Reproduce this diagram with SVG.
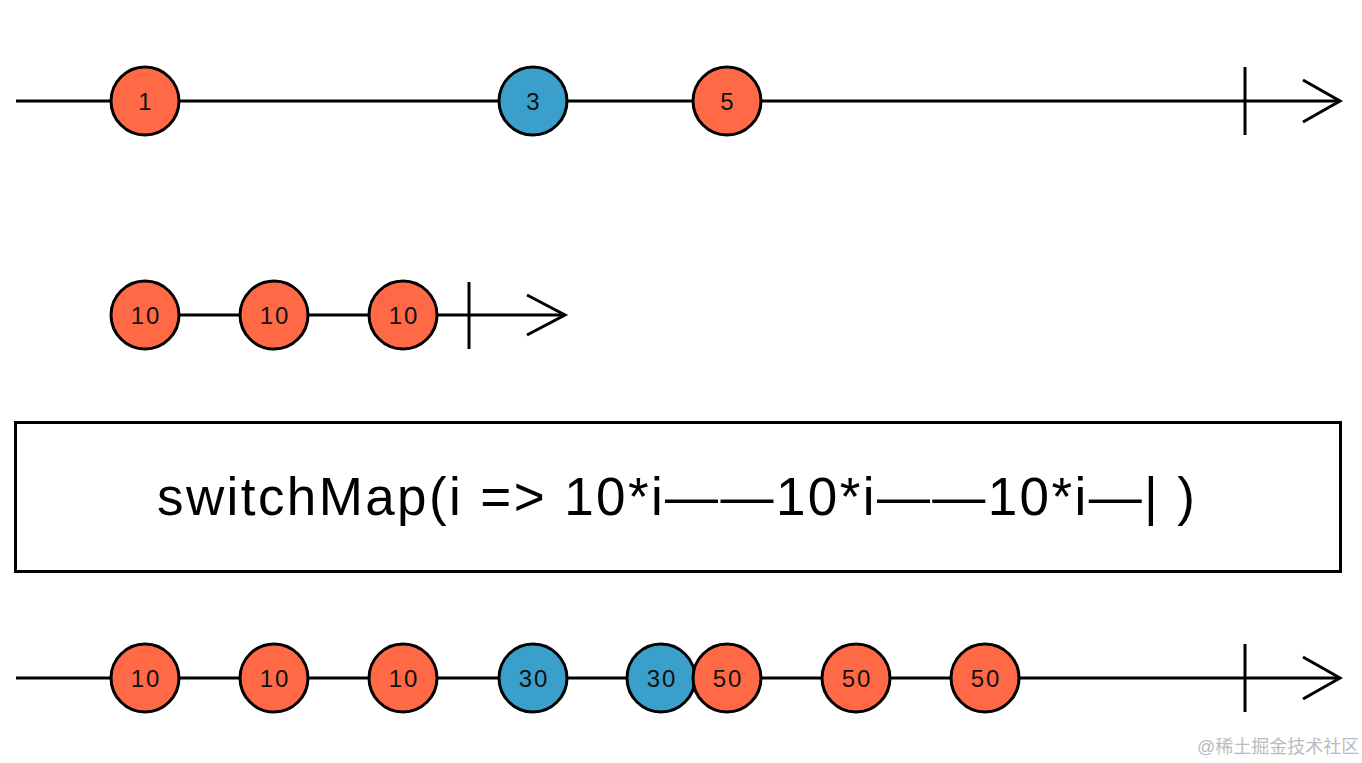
<svg xmlns="http://www.w3.org/2000/svg" width="1362" height="763" viewBox="0 0 1362 763">
<style>
.ln{stroke:#000;stroke-width:3;fill:none}
.o{fill:#FF6946;stroke:#000;stroke-width:3}
.b{fill:#3AA0CB;stroke:#000;stroke-width:3}
.t{font-family:"Liberation Sans",Arial,sans-serif;font-size:24px;letter-spacing:2px;text-anchor:middle;fill:#111}
.big{font-family:"Liberation Sans",Arial,sans-serif;font-size:53px;fill:#000}
.wm{font-family:"Liberation Sans","Noto Sans CJK SC",sans-serif;font-size:18px;fill:#bbb}
</style>
<rect width="1362" height="763" fill="#fff"/>
<g id="connectors">
<line class="ln" x1="16" y1="101" x2="1340" y2="101"/>
<line class="ln" x1="1245" y1="67" x2="1245" y2="135"/>
<polyline class="ln" points="1303,80 1340,101 1303,122"/>
<line class="ln" x1="145" y1="315" x2="565" y2="315"/>
<line class="ln" x1="469" y1="282" x2="469" y2="349"/>
<polyline class="ln" points="527,295 565,315 527,335"/>
<line class="ln" x1="16" y1="678" x2="1340" y2="678"/>
<line class="ln" x1="1245" y1="644" x2="1245" y2="712"/>
<polyline class="ln" points="1303,657 1340,678 1303,699"/>
</g>
<g id="n1"><circle class="o" cx="145" cy="101" r="34"/><text class="t" x="146" y="110">1</text></g>
<g id="n3"><circle class="b" cx="533" cy="101" r="34"/><text class="t" x="534" y="110">3</text></g>
<g id="n5"><circle class="o" cx="727" cy="101" r="34"/><text class="t" x="728" y="110">5</text></g>
<g id="m1"><circle class="o" cx="145" cy="315" r="34"/><text class="t" x="146" y="324">10</text></g>
<g id="m2"><circle class="o" cx="274" cy="315" r="34"/><text class="t" x="275" y="324">10</text></g>
<g id="m3"><circle class="o" cx="403" cy="315" r="34"/><text class="t" x="404" y="324">10</text></g>
<g id="box"><rect x="15.5" y="422.5" width="1325" height="149" fill="#fff" stroke="#000" stroke-width="3"/><text class="big" x="157" y="515" textLength="1038" lengthAdjust="spacing">switchMap(i =&gt; 10*i——10*i——10*i—| )</text></g>
<g id="r1"><circle class="o" cx="145" cy="678" r="34"/><text class="t" x="146" y="687">10</text></g>
<g id="r2"><circle class="o" cx="274" cy="678" r="34"/><text class="t" x="275" y="687">10</text></g>
<g id="r3"><circle class="o" cx="403" cy="678" r="34"/><text class="t" x="404" y="687">10</text></g>
<g id="r4"><circle class="b" cx="533" cy="678" r="34"/><text class="t" x="534" y="687">30</text></g>
<g id="r5"><circle class="b" cx="661" cy="678" r="34"/><text class="t" x="662" y="687">30</text></g>
<g id="r6"><circle class="o" cx="727" cy="678" r="34"/><text class="t" x="728" y="687">50</text></g>
<g id="r7"><circle class="o" cx="856" cy="678" r="34"/><text class="t" x="857" y="687">50</text></g>
<g id="r8"><circle class="o" cx="985" cy="678" r="34"/><text class="t" x="986" y="687">50</text></g>
<text class="wm" x="1197" y="753">@稀土掘金技术社区</text>
</svg>
